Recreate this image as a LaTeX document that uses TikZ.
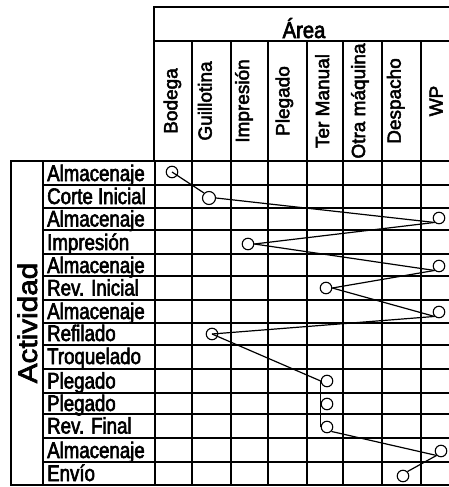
\documentclass[tikz,border=0pt]{standalone}
\usepackage{fontspec}
\setmainfont{Liberation Sans}
\newfontfamily\rowfont[FakeStretch=0.83,FakeBold=2.6]{Liberation Sans}
\newfontfamily\colfont[FakeStretch=1.0,FakeBold=2.6]{Liberation Sans}
\newfontfamily\bigfont[FakeStretch=1.1,FakeBold=2.6]{Liberation Sans}
\begin{document}
\begin{tikzpicture}[x=1pt,y=-1pt,
  thinline/.style={line width=1.2pt},
  gridline/.style={line width=2pt},
  dot/.style={circle,draw,line width=1.1pt,minimum size=11.5pt,inner sep=0pt},
  link/.style={line width=1.2pt},
  rowlab/.style={anchor=base west,inner sep=0pt,font=\rowfont\fontsize{22.5}{22.5}\selectfont},
  collab/.style={anchor=base,rotate=90,inner sep=0pt,font=\colfont\fontsize{19}{19}\selectfont}]
\useasboundingbox (0,0) rectangle (449,487);
% header frame
\draw[thinline] (154,161) -- (154,7) -- (449,7);
\draw[gridline] (154,41) -- (449,41);
\foreach \x in {192,231,268,307,343,382,421}
  \draw[gridline] (\x,41) -- (\x,485);
\draw[gridline] (155,161) -- (155,485);
% row lines
\foreach \y in {161,185,208,230,254,276,300,323,345,369,393,414,438,462,485}{
  \draw[gridline] (155,\y) -- (449,\y);
  \draw[thinline] (43,\y) -- (155,\y);
}
\draw[thinline] (43,161) -- (43,485);
\draw[thinline] (11,161) rectangle (43,485);
% titles
\node[anchor=base,inner sep=0pt,font=\rowfont\fontsize{23}{23}\selectfont,xscale=1.06] (area) at (304,38) {Área};
\node[anchor=base,rotate=90,inner sep=0pt,font=\bigfont\fontsize{27}{27}\selectfont] (act) at (37,323) {Actividad};
% column labels
\foreach \x/\t [count=\i] in {177.3/Bodega,211.7/Guillotina,249/Impresión,289.3/Plegado,329/Ter Manual,365/Otra máquina,400.7/Despacho,442.7/WP}
  \node[collab] (h\i) at (\x,101) {\t};
% row labels
\foreach \y/\t [count=\i] in {181/Almacenaje,204/Corte Inicial,226.5/Almacenaje,250/Impresión,273/Almacenaje,295.5/Rev. Inicial,319/Almacenaje,341/Refilado,364/Troquelado,388.5/Plegado,411/Plegado,433.5/Rev. Final,458/Almacenaje,481/Envío}
  \node[rowlab] (r\i) at (47,\y) {\t};
% circles
\node[dot] (c1) at (172,172) {};
\node[dot,minimum size=13pt] (c2) at (209,198) {};
\node[dot] (c3) at (439,218) {};
\node[dot] (c4) at (248,244) {};
\node[dot] (c5) at (439,266) {};
\node[dot] (c6) at (326,288) {};
\node[dot] (c7) at (439,312) {};
\node[dot] (c8) at (212,334) {};
\node[dot] (c10) at (327,381) {};
\node[dot] (c11) at (327,404) {};
\node[dot] (c12) at (327,427) {};
\node[dot] (c13) at (441,451) {};
\node[dot] (c14) at (403,476) {};
% connectors
\draw[link] (c1.center) -- (c2.north west);
\draw[link] (c2.east) -- (c3.south west);
\draw[link] (c3.south west) -- (c4.east);
\draw[link] (c4.east) -- (c5.south west);
\draw[link] (c5.south west) -- (c6.east);
\draw[link] (c6.east) -- (c7.south west);
\draw[link] (c7.south west) -- (c8.center);
\draw[link] (c8.center) -- (c10.west);
\draw[link] (c10.west) -- (c11.west) -- (c12.west);
\draw[link] (c12.south east) -- (c13.south west);
\draw[link] (c13.south west) -- (c14.north east);
\end{tikzpicture}
\end{document}
